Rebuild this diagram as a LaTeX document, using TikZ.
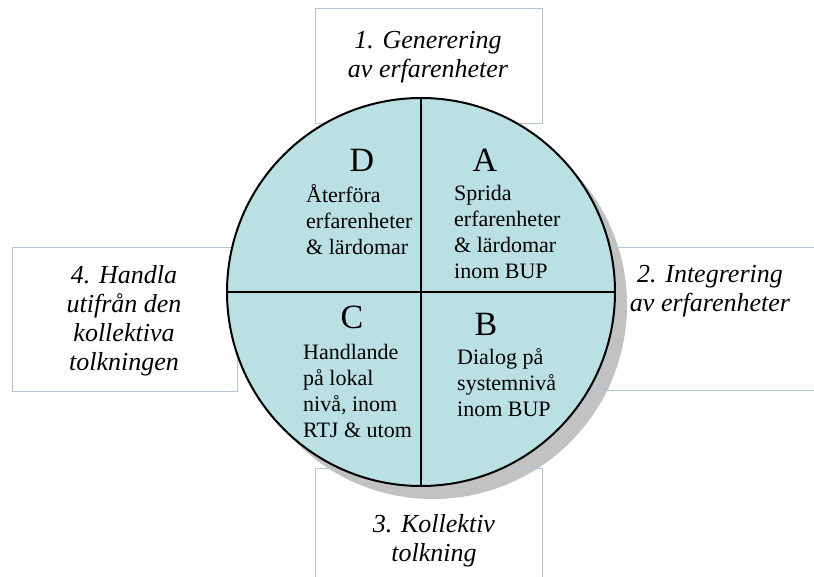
\documentclass[tikz,border=0pt]{standalone}
\usepackage{fontspec}
\setmainfont{Liberation Serif}
\definecolor{fillc}{HTML}{BBE0E3}
\definecolor{boxc}{HTML}{B4C6D6}
\definecolor{shad}{HTML}{C2C2C2}
\begin{document}
\begin{tikzpicture}[x=1pt,y=-1pt,
 box/.style={draw=boxc, line width=0.9pt},
 lab/.style={font=\fontsize{26}{29}\selectfont\itshape, align=center, inner sep=0},
 big/.style={font=\fontsize{34}{34}\selectfont, inner sep=0},
 txt/.style={font=\fontsize{22}{25.7}\selectfont, align=left, inner sep=0, anchor=west},
 divider/.style={line width=2pt}]
\useasboundingbox (0,0) rectangle (814,577);
\clip (0,0) rectangle (814,577);
% shadow
\fill[shad] (433,305) circle (194);
% boxes
\draw[box] (315,8) rectangle (542,123);
\draw[box] (12,247) rectangle (237,391);
\draw[box] (598,247) rectangle (830,390);
\draw[box] (315,468) rectangle (542,600);
% labels
\node[lab] (l1) at (428,57.5) {1. Generering\\av erfarenheter};
\node[lab] (l4) at (124,321) {4. Handla\\utifrån den\\kollektiva\\tolkningen};
\node[lab] (l2) at (710,291.5) {2. Integrering\\av erfarenheter};
\node[lab] (l3) at (434,541) {3. Kollektiv\\tolkning};
% circle
\node[circle, draw, fill=fillc, line width=2pt, minimum size=388pt, inner sep=0] (c) at (421,292) {};
\draw[divider] (c.north) -- (c.south);
\draw[divider] (c.west) -- (c.east);
% quadrant texts
\node[big] (D) at (362,160) {D};
\node[big] (A) at (485,160) {A};
\node[big] (C) at (352,317) {C};
\node[big] (B) at (486,324) {B};
\node[txt] (td) at (306,219.5) {Återföra\\erfarenheter\\\& lärdomar};
\node[txt] (ta) at (454,232) {Sprida\\erfarenheter\\\& lärdomar\\inom BUP};
\node[txt] (tc) at (303,391) {Handlande\\på lokal\\nivå, inom\\RTJ \& utom};
\node[txt] (tb) at (457,382.5) {Dialog på\\systemnivå\\inom BUP};
\end{tikzpicture}
\end{document}
